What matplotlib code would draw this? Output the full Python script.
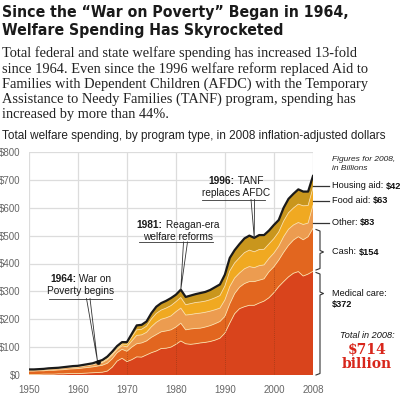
import numpy as np
import matplotlib
matplotlib.use('Agg')
import matplotlib.pyplot as plt
from matplotlib.transforms import IdentityTransform

years = list(range(1950, 2009))

medical = [2, 2, 2, 3, 3, 3, 4, 4, 5, 5, 5, 6, 7, 8, 9, 10, 14, 28, 50, 60,
           48, 55, 65, 64, 72, 80, 86, 95, 96, 100, 110, 122, 112, 110, 112, 115, 117, 120, 125, 132,
           150, 186, 220, 238, 245, 250, 250, 258, 265, 277, 295, 317, 335, 352, 365, 371, 355, 362, 372]
cash = [12, 12, 13, 12, 14, 14, 14, 15, 16, 17, 18, 19, 20, 21, 23, 25, 28, 30, 30, 32,
        37, 45, 47, 51, 50, 55, 59, 60, 62, 62, 62, 64, 50, 55, 55, 53, 55, 57, 59, 60,
        60, 69, 72, 77, 83, 85, 85, 82, 80, 93, 93, 95, 105, 113, 119, 125, 130, 134, 154]
other = [4, 4, 4, 5, 5, 5, 5, 6, 6, 6, 6, 7, 7, 8, 9, 10, 13, 13, 12, 13,
         16, 22, 30, 29, 31, 38, 44, 45, 47, 50, 55, 54, 53, 52, 53, 54, 53, 52, 50, 48,
         59, 62, 56, 51, 53, 54, 50, 52, 50, 48, 49, 50, 56, 58, 54, 51, 55, 49, 83]
food = [0, 0, 0, 0, 0, 0, 0, 0, 0, 0, 0, 0, 1, 1, 2, 3, 4, 5, 5, 6,
        9, 14, 20, 20, 22, 28, 32, 33, 35, 37, 36, 38, 37, 39, 40, 40, 40, 41, 43, 45,
        50, 56, 54, 55, 58, 59, 57, 58, 56, 52, 52, 51, 56, 59, 61, 66, 67, 63, 63]
housing = [2, 2, 2, 2, 2, 3, 3, 3, 3, 4, 4, 4, 4, 4, 5, 6, 7, 8, 7, 7,
           8, 12, 16, 16, 17, 21, 24, 25, 26, 27, 25, 28, 28, 29, 30, 32, 33, 35, 38, 40,
           41, 47, 46, 49, 51, 52, 50, 52, 51, 48, 49, 43, 48, 50, 51, 53, 51, 50, 42]

layer_colors = ['#d9441c', '#e2661f', '#ec9c50', '#f0a921', '#c9961d']
y_ticks = [0, 100, 200, 300, 400, 500, 600, 700, 800]
y_labels = ['$0', '$100', '$200', '$300', '$400', '$500', '$600', '$700', '$800']
x_ticks = [1950, 1960, 1970, 1980, 1990, 2000, 2008]

title_lines = ['Since the \u201cWar on Poverty\u201d Began in 1964,',
               'Welfare Spending Has Skyrocketed']
body_lines = ['Total federal and state welfare spending has increased 13-fold',
              'since 1964. Even since the 1996 welfare reform replaced Aid to',
              'Families with Dependent Children (AFDC) with the Temporary',
              'Assistance to Needy Families (TANF) program, spending has',
              'increased by more than 44%.']
subtitle = 'Total welfare spending, by program type, in 2008 inflation-adjusted dollars'

W, H = 400, 396
fig = plt.figure(figsize=(4, 3.96), dpi=100)
renderer = fig.canvas.get_renderer()
SANS = 'Liberation Sans'
TITLE_FONT = ['DejaVu Sans Condensed', 'Liberation Sans Narrow', 'DejaVu Sans']


def width_of(s, size, weight='normal', family=SANS, style='normal', stretch='normal'):
    t = fig.text(0, 0, '|' + s + '|', fontsize=size, weight=weight, family=family,
                 style=style, stretch=stretch)
    w1 = t.get_window_extent(renderer).width
    t.set_text('||')
    w0 = t.get_window_extent(renderer).width
    t.remove()
    return w1 - w0


def rich(x, y, parts, size, ha='left', family=SANS, color='#222222', style='normal'):
    # x, y in pixels from top-left of the figure
    widths = [width_of(s, size, w, family, style) for s, w in parts]
    if ha == 'center':
        x = x - sum(widths) / 2
    for (s, w), wd in zip(parts, widths):
        fig.text(x, H - y, s, fontsize=size, weight=w, family=family, style=style,
                 color=color, ha='left', va='center', transform=IdentityTransform())
        x += wd


# header, sized to the reference line widths, placed on the reference baselines
tsize = 13 * 346 / width_of(title_lines[0], 13, 'bold', TITLE_FONT, stretch='condensed')
for i, line in enumerate(title_lines):
    fig.text(2, H - (17.5 + 18 * i), line, fontsize=tsize, weight='bold',
             family=TITLE_FONT, stretch='condensed', color='#1a1a1a',
             ha='left', va='baseline', transform=IdentityTransform())

bsize = 10 * 358 / width_of(body_lines[0], 10, family='Liberation Serif')
for i, line in enumerate(body_lines):
    fig.text(2, H - (57.5 + 15.2 * i), line, fontsize=bsize, family='Liberation Serif',
             color='#222222', ha='left', va='baseline', transform=IdentityTransform())

ssize = 8 * 388 / width_of(subtitle, 8)
fig.text(2, H - 139.5, subtitle, fontsize=ssize, family=SANS, color='#222222',
         ha='left', va='baseline', transform=IdentityTransform())

# chart
ax = fig.add_axes([29 / W, 21 / H, 284 / W, 223 / H])
ax.set_xlim(1950, 2008)
ax.set_ylim(0, 800)

ax.stackplot(years, medical, cash, other, food, housing, colors=layer_colors, zorder=2)
stack = np.cumsum(np.array([medical, cash, other, food]), axis=0)
for s in stack:
    ax.plot(years, s, color='#f9dca6', lw=0.6, zorder=3)
total = np.array(medical) + np.array(cash) + np.array(other) + np.array(food) + np.array(housing)
ax.plot(years, total, color='#1a1a1a', lw=1.6, zorder=5, solid_joinstyle='round')

for yr in [1970, 1980, 1990, 2000]:
    i = years.index(yr)
    ax.plot([yr, yr], [0, stack[1][i]], color='#8a3512', lw=0.6, ls=(0, (1, 1.5)),
            alpha=0.7, zorder=3)

ax.set_yticks(y_ticks)
ax.set_yticklabels(y_labels)
ax.set_xticks(x_ticks)
ax.grid(True, color='#dcdcdc', lw=0.9, zorder=0)
ax.set_axisbelow(True)
for sp in ax.spines.values():
    sp.set_visible(False)
ax.tick_params(length=0, labelsize=7, labelcolor='#666666')
ax.tick_params(axis='x', pad=7)
ax.tick_params(axis='y', pad=6)
for lab in ax.get_xticklabels() + ax.get_yticklabels():
    lab.set_family(SANS)


def px_to_data(x, y):
    return 1950 + (x - 29) * 58 / 284, (375 - y) * 800 / 223


def event(year_lbl, rest, line2, cx, y1, y2, ul0, ul1, uly, v0, v1, tip_year, dot=False):
    rich(cx, y1, [(year_lbl, 'bold'), (rest, 'normal')], 7.3, ha='center', color='#1a1a1a')
    rich(cx, y2, [(line2, 'normal')], 7.3, ha='center', color='#1a1a1a')
    a, b = px_to_data(ul0, uly)
    c, _ = px_to_data(ul1, uly)
    ax.plot([a, c], [b, b], color='#333333', lw=0.6, zorder=6, clip_on=False)
    tip = total[years.index(tip_year)]
    va, _ = px_to_data(v0, uly)
    vb, _ = px_to_data(v1, uly)
    ax.plot([va, tip_year, vb], [b, tip, b], color='#333333', lw=0.6, zorder=6, clip_on=False)
    if dot:
        ax.plot([tip_year], [tip], 'o', color='#111111', ms=2.4, zorder=7)


event('1964:', ' War on', 'Poverty begins', 81, 278.5, 290.5, 49, 112, 298.5, 86.5, 90, 1964, dot=True)
event('1981:', ' Reagan-era', 'welfare reforms', 178, 225, 236.5, 139, 213, 242, 183.5, 187.5, 1981)
event('1996:', ' TANF', 'replaces AFDC', 236, 181, 192.5, 202, 265, 199.5, 251, 254.5, 1996)

# right-hand side legend
rich(332, 159.5, [('Figures for 2008,', 'normal')], 6.0, style='italic', color='#222222')
rich(332, 168.5, [('in Billions', 'normal')], 6.0, style='italic', color='#222222')
side = [('Housing aid: ', '$42', 186), ('Food aid: ', '$63', 200.5), ('Other: ', '$83', 222.5)]
for lbl, val, y in side:
    rich(332, y, [(lbl, 'normal'), (val, 'bold')], 6.6, color='#111111')
    yr0, v = px_to_data(313, y)
    yr1, _ = px_to_data(329, y)
    ax.plot([yr0, yr1], [v, v], color='#333333', lw=0.9, clip_on=False, zorder=6)
rich(332, 252, [('Cash: ', 'normal'), ('$154', 'bold')], 6.6, color='#111111')
rich(332, 293.5, [('Medical care:', 'normal')], 6.6, color='#111111')
rich(332, 304.5, [('$372', 'bold')], 6.6, color='#111111')


def brace(top_y, mid_y, bot_y):
    xs = [316, 320, 320, 323.5, 320, 320, 316]
    ys = [top_y, top_y + 1.5, mid_y - 1.5, mid_y, mid_y + 1.5, bot_y - 1.5, bot_y]
    pts = [px_to_data(x, y) for x, y in zip(xs, ys)]
    ax.plot([p[0] for p in pts], [p[1] for p in pts], color='#333333', lw=0.8,
            clip_on=False, zorder=6)


brace(229.5, 252, 270)
brace(272.5, 293.5, 375)

rich(367, 335, [('Total in 2008:', 'normal')], 6.6, ha='center', style='italic', color='#111111')
rich(367, 349.5, [('$714', 'bold')], 10, ha='center', family='DejaVu Serif', color='#d8261b')
rich(367, 364.5, [('billion', 'bold')], 10, ha='center', family='DejaVu Serif', color='#d8261b')

fig.savefig('out.png', dpi=100)
